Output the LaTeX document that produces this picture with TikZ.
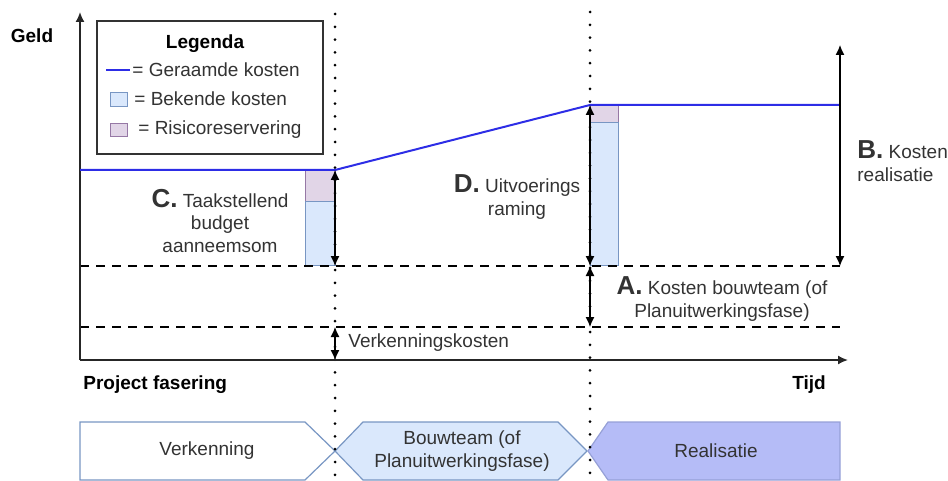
\documentclass[tikz,border=0pt]{standalone}
\usepackage{fontspec}
\setmainfont{Liberation Sans}
\usetikzlibrary{arrows, arrows.meta, positioning, calc}

\definecolor{geraamd}{RGB}{45,45,230}
\definecolor{bekendfill}{RGB}{218,232,252}
\definecolor{bekenddraw}{RGB}{120,150,195}
\definecolor{risicofill}{RGB}{225,213,231}
\definecolor{risicodraw}{RGB}{150,120,165}
\definecolor{realfill}{RGB}{181,188,247}
\definecolor{realdraw}{RGB}{150,160,215}

\newcommand{\letter}[1]{{\fontsize{13}{13}\selectfont\bfseries #1}}

\begin{document}
\begin{tikzpicture}[
    x=0.5pt, y=-0.5pt,
    font=\fontsize{9.5}{11.2}\selectfont,
    txt/.style={inner sep=1pt, text=black!80},
    kop/.style={inner sep=1pt, font=\fontsize{9.5}{11.2}\selectfont\bfseries},
    axis/.style={draw, -{Latex[length=5pt,width=4.5pt]}, line width=0.8pt, black!85},
    maat/.style={draw, {Latex[length=5pt,width=4.5pt]}-{Latex[length=5pt,width=4.5pt]}, line width=0.6pt},
    niveau/.style={draw, line width=1.1pt, dash pattern=on 4.5pt off 3.5pt},
    fase/.style={draw, line width=1.5pt, dash pattern=on 0pt off 6.4pt, line cap=round},
    raming/.style={draw=geraamd, line width=1pt},
    bekend/.style={draw=bekenddraw, fill=bekendfill, line width=0.5pt},
    risico/.style={draw=risicodraw, fill=risicofill, line width=0.5pt},
    fasevorm/.style={draw=bekenddraw, line width=0.6pt}
]
\useasboundingbox (0,0) rectangle (948,481);

% punten in de grafiek
\coordinate (origin) at (80,360);
\coordinate (ytop) at (80,12);
\coordinate (xend) at (848,360);
\coordinate (start) at (80,170);
\coordinate (cTop) at (335,170);
\coordinate (cBot) at (335,266);
\coordinate (dTop) at (590,105);
\coordinate (dBot) at (590,266);
\coordinate (aBot) at (590,327);
\coordinate (eind) at (840,105);
\coordinate (bTop) at (840,45);
\coordinate (bBot) at (840,266);
\coordinate (vTop) at (335,327);
\coordinate (vBot) at (335,360);

% fasen onderaan
\path [fasevorm, fill=white] (80,422) -- (305,422) -- (335,451) -- (305,480) -- (80,480) -- cycle;
\path [fasevorm, fill=bekendfill] (335,451) -- (363,422) -- (558,422) -- (587,451) -- (558,480) -- (363,480) -- cycle;
\path [fasevorm, draw=realdraw, fill=realfill] (588,451) -- (608,422) -- (840,422) -- (840,480) -- (608,480) -- cycle;
\node [txt] (verkenning) at (207,451) {Verkenning};
\node [txt, align=center] (bouwteam) at (462,451) {Bouwteam (of\\Planuitwerkingsfase)};
\node [txt] (realisatie) at (716,451) {Realisatie};

% kosten blokken
\path [risico] (305,170) rectangle (335,201);
\path [bekend] (305,201) rectangle (335,265);
\path [risico] (590,105) rectangle (618,123);
\path [bekend] (590,123) rectangle (618,265);

% niveaus en fasegrenzen
\path [niveau] (80,266) -- (840,266);
\path [niveau] (80,327) -- (840,327);
\path [fase] (335,14) -- (335,481);
\path [fase] (590,12) -- (590,481);

% assen
\path [axis] (origin) -- (ytop);
\path [axis] (origin) -- (xend);
\node [kop] (geld) at (32,36) {Geld};
\node [kop, anchor=west] (fasering) at (81,385) {Project fasering};
\node [kop] (tijd) at (809,385) {Tijd};

% geraamde kosten
\path [raming] (start) -- (cTop) -- (dTop) -- (eind);

% maatlijnen
\path [maat] (cTop) -- (cBot);
\path [maat] (dTop) -- (dBot);
\path [maat] (dBot) -- (aBot);
\path [maat] (bTop) -- (bBot);
\path [maat] (vTop) -- (vBot);

\node [txt, align=center] (labelC) at (220,221) {\letter{C.} Taakstellend\\budget\\aanneemsom};
\node [txt, align=center] (labelD) at (517,197) {\letter{D.} Uitvoerings\\raming};
\node [txt, align=center] (labelA) at (722,299) {\letter{A.} Kosten bouwteam (of\\Planuitwerkingsfase)};
\node [txt, align=left, anchor=west] (labelB) at (855,161) {\letter{B.} Kosten\\realisatie};
\node [txt, anchor=west] (labelV) at (346,343) {Verkenningskosten};

% legenda
\draw [line width=0.8pt, black!80] (97,21) rectangle (323,154);
\node [kop] (legtitel) at (205,44) {Legenda};
\path [raming] (106,70) -- (130,70);
\node [txt, anchor=west] (legraming) at (130,70) {= Geraamde kosten};
\path [bekend] (110,93) rectangle (127,107);
\node [txt, anchor=west] (legbekend) at (132,99) {= Bekende kosten};
\path [risico] (110,124) rectangle (127,137);
\node [txt, anchor=west] (legrisico) at (136,130) {= Risicoreservering};
\end{tikzpicture}
\end{document}
